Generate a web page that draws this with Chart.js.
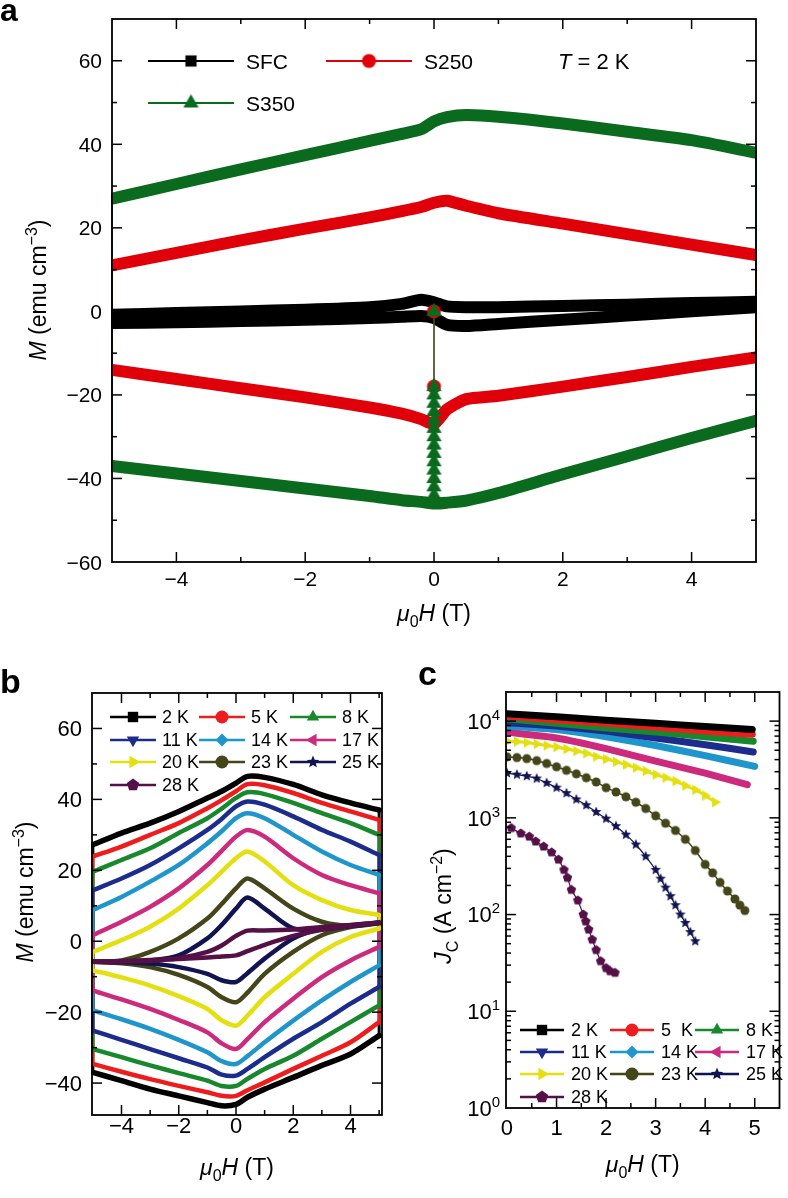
<!DOCTYPE html>
<html>
<head>
<meta charset="utf-8">
<script src="https://cdn.jsdelivr.net/npm/chart.js@4.4.1/dist/chart.umd.min.js"></script>
<style>
  body { margin: 0; background: #fff; width: 788px; height: 1198px; position: relative; overflow: hidden; }
  canvas { position: absolute; }
</style>
</head>
<body>
<canvas id="panelA" width="788" height="660" style="left:0;top:0"></canvas>
<canvas id="panelB" width="394" height="538" style="left:0;top:660px"></canvas>
<canvas id="panelC" width="394" height="538" style="left:394px;top:660px"></canvas>
<script>
// ---------- panel a : M(H) loops at T = 2 K ----------
const fieldA = [-5, -4, -3, -2, -1, -0.5, -0.2, 0, 0.2, 0.5, 1, 2, 3, 4, 5];
const sfcUp  = [-0.8, -0.4, 0, 0.4, 1, 1.8, 2.8, 2.2, 1.2, 1.0, 1.0, 1.3, 1.6, 2.0, 2.3];
const sfcDn  = [-2.8, -2.6, -2.3, -2.0, -1.6, -1.3, -1.1, -1.6, -3.2, -3.5, -3.0, -2.0, -1.0, 0, 1.0];
const s250Up = [11, 14, 17, 19.8, 22.5, 24, 25, 26, 26.5, 25.3, 23.5, 21, 18.5, 16, 13.5];
const s250Dn = [-14, -16.2, -18.4, -20.6, -23, -24.5, -25.8, -27, -23.5, -21, -20.2, -18, -15.7, -13.3, -11];
const s350Up = [27, 30.5, 34, 37.4, 40.8, 42.5, 43.6, 45.5, 46.5, 47, 46.6, 45, 43, 41, 38];
const s350Dn = [-37, -38.8, -40.6, -42.4, -44.2, -45.2, -45.6, -46, -45.8, -45.3, -43.5, -39, -34.7, -30.3, -26.2];
// jumps recorded at zero field
const virginS350 = [0, -18, -20, -22, -24, -26, -28, -30, -32, -34, -36, -38, -40, -42, -44, -45.5];
const virginS250 = [0, -18];
const ticksAX = [-4, -2, 0, 2, 4];
const minorAX = [-3, -1, 1, 3];
const ticksAY = [-60, -40, -20, 0, 20, 40, 60];
const minorAY = [-50, -30, -10, 10, 30, 50];

// ---------- panel b : M(H) loops vs temperature ----------
const tempLabelsB = ['2 K', '5 K', '8 K', '11 K', '14 K', '17 K', '20 K', '23 K', '25 K', '28 K'];
const fieldB = [-5, -4, -3, -2, -1, -0.5, 0, 0.4, 1, 2, 3, 4, 5];
const upperB = [
  [27.2, 30.5, 33.3, 36.6, 40.4, 42.3, 44.6, 46.5, 46.2, 44.2, 41.3, 39.0, 37.0],   // 2 K
  [23.9, 26.7, 30.0, 33.3, 37.5, 39.8, 42.3, 44.3, 44.0, 41.8, 39.0, 36.6, 34.2],   // 5 K
  [19.6, 22.9, 26.2, 30.5, 34.7, 37.4, 40.4, 42.0, 41.5, 39.0, 36.1, 33.3, 30.0],   // 8 K
  [14.4, 17.7, 21.5, 26.2, 31.4, 34.5, 38.0, 39.4, 38.5, 35.2, 31.4, 28.1, 24.3],   // 11 K
  [8.8, 12.5, 16.8, 21.5, 27.6, 31.0, 34.7, 36.1, 34.7, 30.0, 25.3, 21.5, 18.7],    // 14 K
  [1.7, 5.5, 9.7, 14.9, 21.5, 25.5, 29.5, 31.4, 29.5, 23.4, 18.7, 15.8, 13.5],      // 17 K
  [-3.0, 0.3, 4.1, 9.2, 15.8, 19.6, 23.4, 25.3, 22.5, 15.8, 11.6, 8.8, 7.4],        // 20 K
  [-5.8, -5.4, -3.0, 0.8, 6.4, 10.5, 14.9, 17.7, 14.9, 9.2, 5.5, 4.3, 5.0],         // 23 K
  [-5.8, -5.8, -5.4, -4.0, 0.8, 4.6, 9.2, 12.3, 9.2, 3.6, 3.4, 4.2, 5.2],           // 25 K
  [-5.8, -5.7, -5.5, -4.8, -3.0, -1.2, 1.5, 3.0, 3.0, 3.3, 4.0, 4.6, 5.3]           // 28 K
];
const lowerB = [
  [-37.0, -39.3, -41.7, -43.6, -45.5, -46.4, -46.0, -44.0, -41.7, -38.4, -35.0, -31.8, -26.6],
  [-34.6, -36.8, -38.9, -40.8, -42.6, -43.6, -43.6, -42.0, -39.8, -36.0, -32.3, -28.5, -22.8],
  [-30.4, -32.7, -35.0, -37.2, -39.3, -40.8, -40.8, -38.8, -36.0, -32.3, -27.5, -22.8, -18.1],
  [-25.2, -27.8, -30.4, -33.0, -35.6, -37.6, -37.9, -36.0, -32.7, -27.5, -22.8, -17.6, -12.9],
  [-19.5, -22.0, -24.7, -27.8, -31.3, -33.8, -34.6, -32.4, -28.5, -22.4, -16.7, -11.5, -6.8],
  [-13.9, -16.4, -19.1, -22.2, -25.7, -28.8, -30.4, -27.6, -22.8, -16.2, -10.1, -5.4, -1.6],
  [-8.2, -10.2, -12.5, -15.5, -19.1, -22.3, -23.8, -21.0, -15.8, -9.2, -3.0, 1.2, 3.6],
  [-5.8, -6.2, -7.3, -9.5, -12.9, -15.8, -17.2, -14.5, -9.2, -3.0, 1.7, 4.0, 5.2],
  [-5.8, -5.9, -6.3, -7.3, -9.2, -11.0, -11.5, -9.0, -4.9, 0.8, 3.6, 4.5, 5.2],
  [-5.8, -5.6, -5.3, -5.0, -4.6, -4.3, -4.0, -2.8, -1.0, 1.5, 3.2, 4.3, 5.3]
];
const ticksBX = [-4, -2, 0, 2, 4];
const minorBX = [-3, -1, 1, 3, 5];
const ticksBY = [-40, -20, 0, 20, 40, 60];
const minorBY = [-30, -10, 10, 30, 50];

// ---------- panel c : Jc(H) ----------
const tempLabelsC = ['2 K', '5  K', '8 K', '11 K', '14 K', '17 K', '20 K', '23 K', '25 K', '28 K'];
const jc2K  = [[0, 11900], [1, 11100], [2, 10200], [3, 9500], [4, 8800], [4.95, 8200]];
const jc5K  = [[0, 11300], [1, 10300], [2, 9500], [3, 8700], [4, 7900], [4.95, 7300]];
const jc8K  = [[0, 10600], [1, 9500], [2, 8500], [3, 7700], [4, 6900], [4.97, 6200]];
const jc11K = [[0, 9600], [1, 8900], [2, 7900], [3, 6700], [4, 5700], [4.97, 4800]];
const jc14K = [[0, 8900], [1, 8200], [2, 6900], [3, 5600], [4, 4400], [5, 3400]];
const jc17K = [[0, 7700], [1, 6700], [2, 5200], [3, 3850], [4, 2900], [4.85, 2200]];
const jc20K = [[0, 6200], [0.2, 6150], [0.4, 6000], [0.6, 5800], [0.8, 5600], [1.0, 5400], [1.2, 5150],
  [1.4, 4900], [1.6, 4650], [1.8, 4300], [2.0, 4050], [2.2, 3800], [2.4, 3550], [2.6, 3300], [2.8, 3050],
  [3.0, 2800], [3.2, 2600], [3.4, 2400], [3.6, 2150], [3.8, 1950], [4.0, 1700], [4.2, 1450]];
const jc23K = [[0, 4270], [0.2, 4200], [0.4, 4100], [0.6, 3900], [0.8, 3650], [1.0, 3370], [1.2, 3100],
  [1.4, 2850], [1.6, 2600], [1.8, 2350], [2.0, 2050], [2.2, 1850], [2.4, 1650], [2.6, 1450], [2.8, 1250],
  [3.0, 1050], [3.2, 880], [3.4, 740], [3.6, 600], [3.8, 460], [4.0, 330], [4.15, 270], [4.3, 215],
  [4.45, 175], [4.6, 145], [4.7, 125], [4.8, 110]];
const jc25K = [[0, 2900], [0.2, 2800], [0.4, 2700], [0.6, 2550], [0.8, 2300], [1.0, 2050], [1.2, 1800],
  [1.4, 1550], [1.6, 1350], [1.8, 1150], [2.0, 980], [2.2, 820], [2.4, 670], [2.6, 530], [2.8, 400],
  [3.0, 290], [3.1, 235], [3.2, 190], [3.3, 155], [3.4, 125], [3.5, 100], [3.6, 82], [3.7, 66], [3.8, 53]];
const jc28K = [[0.085, 785], [0.28, 690], [0.45, 640], [0.58, 570], [0.74, 505], [0.9, 440], [1.04, 370],
  [1.15, 290], [1.22, 240], [1.3, 180], [1.43, 140], [1.54, 100], [1.59, 85], [1.65, 70], [1.72, 55],
  [1.8, 43], [1.89, 33], [2.0, 28], [2.08, 26], [2.18, 25]];
const ticksCX = [0, 1, 2, 3, 4, 5];
const minorCX = [0.5, 1.5, 2.5, 3.5, 4.5, 5.5];
const decadesC = [0, 1, 2, 3, 4];

const tempColors = ['#000000', '#ee1c1c', '#18882c', '#1c2c8c', '#1e96cc', '#cc2a7c', '#e4e010', '#44461a', '#121452', '#561048'];
const tempShapes = ['square', 'circle', 'up', 'down', 'diamond', 'left', 'right', 'circle', 'star', 'pentagon'];

const FONT = '"Liberation Sans", Arial, Helvetica, sans-serif';

// marker images, so chart points and legend share one look
function makeMarker(shape, color, r) {
  const s = Math.ceil(2 * r + 3);
  const c = document.createElement('canvas');
  c.width = s; c.height = s;
  const g = c.getContext('2d');
  g.fillStyle = color;
  g.translate(s / 2, s / 2);
  g.beginPath();
  const poly = (n, rot, rr) => {
    for (let i = 0; i < n; i++) {
      const t = rot + i * 2 * Math.PI / n;
      i ? g.lineTo(rr * Math.cos(t), rr * Math.sin(t)) : g.moveTo(rr * Math.cos(t), rr * Math.sin(t));
    }
    g.closePath();
  };
  switch (shape) {
    case 'square': g.rect(-r * 0.8, -r * 0.8, r * 1.6, r * 1.6); break;
    case 'circle': g.arc(0, 0, r, 0, 2 * Math.PI); break;
    case 'up': poly(3, -Math.PI / 2, r * 1.1); break;
    case 'down': poly(3, Math.PI / 2, r * 1.1); break;
    case 'left': poly(3, Math.PI, r * 1.1); break;
    case 'right': poly(3, 0, r * 1.1); break;
    case 'diamond': poly(4, 0, r); break;
    case 'pentagon': poly(5, -Math.PI / 2, r); break;
    case 'star':
      for (let i = 0; i < 10; i++) {
        const t = -Math.PI / 2 + i * Math.PI / 5, rr = i % 2 ? r * 0.45 : r;
        i ? g.lineTo(rr * Math.cos(t), rr * Math.sin(t)) : g.moveTo(rr * Math.cos(t), rr * Math.sin(t));
      }
      g.closePath();
      break;
  }
  g.fill();
  return c;
}

function fontFor(r, size) {
  const s = (r.sub || r.sup) ? size * 0.68 : size;
  return (r.it ? 'italic ' : '') + (r.b ? 'bold ' : '') + Math.round(s) + 'px ' + FONT;
}
function drawRuns(ctx, runs, x, y, size, align) {
  let w = 0;
  runs.forEach(r => { ctx.font = fontFor(r, size); w += ctx.measureText(r.t).width; });
  let cx = align === 'center' ? x - w / 2 : align === 'right' ? x - w : x;
  ctx.textAlign = 'left';
  ctx.textBaseline = 'alphabetic';
  runs.forEach(r => {
    ctx.font = fontFor(r, size);
    const dy = r.sub ? size * 0.28 : r.sup ? -size * 0.42 : 0;
    ctx.fillText(r.t, cx, y + dy);
    cx += ctx.measureText(r.t).width;
  });
}
const numRuns = v => [{ t: v < 0 ? '\u2212' + Math.abs(v) : String(v) }];
const titleH = [{ t: '\u03bc', it: true }, { t: '0', sub: true }, { t: 'H', it: true }, { t: ' (T)' }];
const titleM = [{ t: 'M', it: true }, { t: ' (emu cm' }, { t: '\u22123', sup: true }, { t: ')' }];
const titleJ = [{ t: 'J', it: true }, { t: 'C', sub: true }, { t: ' (A cm' }, { t: '\u22122', sup: true }, { t: ')' }];

// frame, inward ticks, labels, titles and legend
const deco = {
  id: 'deco',
  afterDatasetsDraw(chart, args, o) {
    const { ctx, chartArea: ca } = chart;
    const sx = chart.scales.x, sy = chart.scales.y;
    ctx.save();
    ctx.strokeStyle = '#000';
    ctx.fillStyle = '#000';
    ctx.lineWidth = o.frameWidth;
    ctx.strokeRect(ca.left, ca.top, ca.right - ca.left, ca.bottom - ca.top);
    ctx.lineWidth = 1.5;
    const seg = (x1, y1, x2, y2) => { ctx.beginPath(); ctx.moveTo(x1, y1); ctx.lineTo(x2, y2); ctx.stroke(); };
    const xt = (vals, len) => vals.forEach(v => {
      const p = sx.getPixelForValue(v);
      if (p < ca.left + 1 || p > ca.right - 1) return;
      seg(p, ca.bottom, p, ca.bottom - len); seg(p, ca.top, p, ca.top + len);
    });
    const yt = (vals, len) => vals.forEach(v => {
      const p = sy.getPixelForValue(v);
      if (p < ca.top + 1 || p > ca.bottom - 1) return;
      seg(ca.left, p, ca.left + len, p); seg(ca.right, p, ca.right - len, p);
    });
    xt(o.xMajor, 10); xt(o.xMinor, 5);
    yt(o.yMajor, 10); yt(o.yMinor, 5);

    o.xMajor.forEach(v => drawRuns(ctx, o.xFmt(v), sx.getPixelForValue(v), o.xLabelY, o.tickSize, 'center'));
    o.yMajor.forEach(v => drawRuns(ctx, o.yFmt(v), o.yLabelX, sy.getPixelForValue(v) + o.tickSize * 0.36, o.tickSize, 'right'));

    drawRuns(ctx, o.xTitle, (ca.left + ca.right) / 2, o.xTitleY, o.titleSize, 'center');
    ctx.save();
    ctx.translate(o.yTitleX, o.yTitleY);
    ctx.rotate(-Math.PI / 2);
    drawRuns(ctx, o.yTitle, 0, o.titleSize * 0.36, o.titleSize, 'center');
    ctx.restore();

    const lg = o.legend;
    lg.items.forEach((it, i) => {
      const x0 = lg.cols[i % lg.cols.length], y0 = lg.rows[Math.floor(i / lg.cols.length)];
      ctx.strokeStyle = it.color;
      ctx.lineWidth = lg.lineWidth;
      seg(x0, y0, x0 + lg.lineLen, y0);
      const m = it.marker;
      ctx.drawImage(m, x0 + lg.lineLen / 2 - m.width / 2, y0 - m.height / 2);
      ctx.fillStyle = '#000';
      drawRuns(ctx, [{ t: it.label }], x0 + lg.lineLen + lg.gap, y0 + lg.size * 0.36, lg.size, 'left');
    });
    (o.texts || []).forEach(t => drawRuns(ctx, t.runs, t.x, t.y, t.size, t.align || 'left'));
    ctx.restore();
  }
};

function baseOptions(pad, xs, ys, decoCfg, tension) {
  return {
    responsive: false, animation: false, devicePixelRatio: 1, events: [],
    layout: { padding: pad },
    plugins: { legend: { display: false }, tooltip: { enabled: false }, deco: decoCfg },
    scales: { x: Object.assign({ display: false }, xs), y: Object.assign({ display: false }, ys) },
    elements: { point: { radius: 0 }, line: { tension: tension, borderCapStyle: 'round', borderJoinStyle: 'round' } }
  };
}
const edgeClip = { left: 1, right: 1, top: 0, bottom: 0 };

// one hysteresis loop = two field-sweep branches plus the thin jumps at the field ends
function loopSets(field, up, dn, color, width, jumpWidth) {
  const n = field.length - 1;
  const branch = vals => field.map((h, i) => ({ x: h, y: vals[i] }));
  const common = { showLine: true, borderColor: color, clip: edgeClip };
  return [
    Object.assign({ data: branch(up), borderWidth: width }, common),
    Object.assign({ data: branch(dn), borderWidth: width }, common),
    Object.assign({ data: [{ x: field[0], y: up[0] }, { x: field[0], y: dn[0] }], borderWidth: jumpWidth, tension: 0 }, common),
    Object.assign({ data: [{ x: field[n], y: dn[n] }, { x: field[n], y: up[n] }], borderWidth: jumpWidth, tension: 0 }, common)
  ];
}

// ---------- build panel a ----------
const colA = { sfc: '#000000', s250: '#e0000a', s350: '#0a6a1e' };
const triA = makeMarker('up', colA.s350, 8);
const cirA = makeMarker('circle', colA.s250, 7);

new Chart(document.getElementById('panelA'), {
  type: 'scatter',
  data: {
    datasets: [
      { data: virginS350.map(m => ({ x: 0, y: m })), showLine: true, borderColor: colA.s350, borderWidth: 1.2, pointStyle: triA, pointRadius: 8, tension: 0 },
      { data: virginS250.map(m => ({ x: 0, y: m })), showLine: true, borderColor: colA.s250, borderWidth: 1.2, pointStyle: cirA, pointRadius: 7, tension: 0 },
      ...loopSets(fieldA, sfcUp, sfcDn, colA.sfc, 12, 1.4),
      ...loopSets(fieldA, s250Up, s250Dn, colA.s250, 12, 1.4),
      ...loopSets(fieldA, s350Up, s350Dn, colA.s350, 12, 1.4)
    ]
  },
  options: baseOptions({ left: 112, right: 32, top: 19, bottom: 98 },
    { type: 'linear', min: -5, max: 5 }, { type: 'linear', min: -60, max: 70 },
    {
      frameWidth: 1.8, tickSize: 21, titleSize: 23,
      xMajor: ticksAX, xMinor: minorAX, yMajor: ticksAY, yMinor: minorAY,
      xFmt: numRuns, yFmt: numRuns, xLabelY: 586, yLabelX: 102,
      xTitle: titleH, xTitleY: 621, yTitle: titleM, yTitleX: 38, yTitleY: 290,
      legend: {
        cols: [148, 326], rows: [61, 103], lineLen: 86, lineWidth: 1.8, gap: 12, size: 21,
        items: [
          { label: 'SFC', color: colA.sfc, marker: makeMarker('square', colA.sfc, 7) },
          { label: 'S250', color: colA.s250, marker: makeMarker('circle', colA.s250, 7) },
          { label: 'S350', color: colA.s350, marker: makeMarker('up', colA.s350, 8) }
        ]
      },
      texts: [
        { runs: [{ t: 'a', b: true }], x: 0, y: 21, size: 32 },
        { runs: [{ t: 'T', it: true }, { t: ' = 2 K' }], x: 558, y: 69, size: 22 }
      ]
    }, 0.2),
  plugins: [deco]
});

// ---------- build panel b ----------
const datasetsB = tempLabelsB.flatMap((lab, i) =>
  loopSets(fieldB, upperB[i], lowerB[i], tempColors[i], i === 0 ? 5.5 : 4.5, 3)).reverse();

new Chart(document.getElementById('panelB'), {
  type: 'scatter',
  data: { datasets: datasetsB },
  options: baseOptions({ left: 92, right: 12, top: 33, bottom: 83 },
    { type: 'linear', min: -5.03, max: 5.1 }, { type: 'linear', min: -49, max: 70 },
    {
      frameWidth: 1.8, tickSize: 22, titleSize: 23,
      xMajor: ticksBX, xMinor: minorBX, yMajor: ticksBY, yMinor: minorBY,
      xFmt: numRuns, yFmt: numRuns, xLabelY: 473, yLabelX: 82,
      xTitle: titleH, xTitleY: 515, yTitle: titleM, yTitleX: 25, yTitleY: 232,
      legend: {
        cols: [110, 199, 290], rows: [57, 80, 102, 125], lineLen: 46, lineWidth: 2.5, gap: 6, size: 18,
        items: tempLabelsB.map((lab, i) => ({ label: lab, color: tempColors[i], marker: makeMarker(tempShapes[i], tempColors[i], 6.5) }))
      },
      texts: [{ runs: [{ t: 'b', b: true }], x: 0, y: 33, size: 34 }]
    }, 0.3),
  plugins: [deco]
});

// ---------- build panel c ----------
const seriesC = [jc2K, jc5K, jc8K, jc11K, jc14K, jc17K, jc20K, jc23K, jc25K, jc28K];
const lineWidthsC = [7, 7, 7, 7, 7, 7, 3, 1.5, 1.2, 1.2];
const markerSizesC = [0, 0, 0, 0, 0, 0, 5.5, 4.5, 5.5, 5];
const datasetsC = seriesC.map((s, i) => ({
  data: s.map(p => ({ x: p[0], y: p[1] })),
  showLine: true, borderColor: tempColors[i], borderWidth: lineWidthsC[i], clip: 0,
  pointStyle: markerSizesC[i] ? makeMarker(tempShapes[i], tempColors[i], markerSizesC[i]) : 'circle',
  pointRadius: markerSizesC[i]
}));

new Chart(document.getElementById('panelC'), {
  type: 'scatter',
  data: { datasets: datasetsC },
  options: baseOptions({ left: 112, right: 1, top: 32, bottom: 90 },
    { type: 'linear', min: -0.02, max: 5.5 }, { type: 'logarithmic', min: 1, max: 20000 },
    {
      frameWidth: 1.8, tickSize: 22, titleSize: 23,
      xMajor: ticksCX, xMinor: minorCX,
      yMajor: decadesC.map(k => Math.pow(10, k)),
      yMinor: decadesC.flatMap(k => [2, 3, 4, 5, 6, 7, 8, 9].map(m => m * Math.pow(10, k))).filter(v => v < 20000),
      xFmt: numRuns, yFmt: v => [{ t: '10' }, { t: String(Math.round(Math.log10(v))), sup: true }],
      xLabelY: 475, yLabelX: 106,
      xTitle: titleH, xTitleY: 512, yTitle: titleJ, yTitleX: 49, yTitleY: 246,
      legend: {
        cols: [126, 216, 301], rows: [370, 392, 414, 437], lineLen: 44, lineWidth: 2.5, gap: 7, size: 18,
        items: tempLabelsC.map((lab, i) => ({ label: lab, color: tempColors[i], marker: makeMarker(tempShapes[i], tempColors[i], 6.5) }))
      },
      texts: [{ runs: [{ t: 'c', b: true }], x: 24, y: 25, size: 34 }]
    }, 0.15),
  plugins: [deco]
});
</script>
</body>
</html>
